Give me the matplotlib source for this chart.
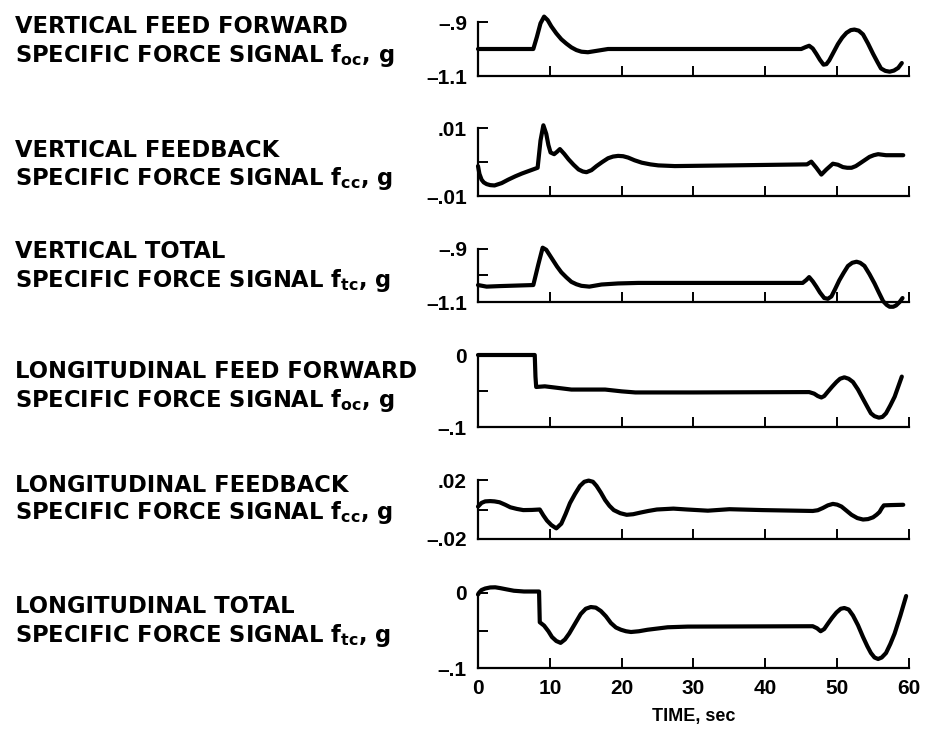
import matplotlib
matplotlib.use("Agg")
import matplotlib.pyplot as plt

plt.rcParams.update({
    "font.family": ["Liberation Sans", "DejaVu Sans"],
    "font.weight": "bold",
    "mathtext.fontset": "custom",
    "mathtext.rm": "DejaVu Sans:bold",
    "mathtext.bf": "DejaVu Sans:bold",
    "mathtext.it": "DejaVu Sans:bold",
    "mathtext.sf": "DejaVu Sans:bold",
})

# ---- time histories (time in sec, specific force in g) ----
t_vff = [0, 7.7, 8.2, 8.7, 9.2, 9.7, 10.2, 10.9, 11.6, 12.3, 13.0, 13.7, 14.4, 15.3,
         16.0, 16.7, 18.1, 30, 45.0, 45.6, 46.1, 46.6, 47.1, 47.6, 48.1, 48.5, 48.9,
         49.5, 50.1, 50.7, 51.3, 51.9, 52.4, 53.0, 53.6, 54.3, 55.0, 55.6, 56.1, 56.7,
         57.3, 57.9, 58.5, 59.0]
f_vff = [-1.0, -1.0, -0.955, -0.905, -0.88, -0.893, -0.916, -0.942, -0.964, -0.98,
         -0.994, -1.004, -1.01, -1.012, -1.009, -1.006, -1.0, -1.0, -1.0, -0.993,
         -0.988, -0.998, -1.018, -1.04, -1.058, -1.056, -1.042, -1.012, -0.982, -0.958,
         -0.94, -0.93, -0.928, -0.932, -0.946, -0.98, -1.018, -1.048, -1.072, -1.081,
         -1.084, -1.08, -1.07, -1.052]

t_vfb = [0, 0.2, 0.5, 0.8, 1.2, 1.7, 2.3, 3.3, 4.2, 5.2, 6.1, 7.0, 8.3, 8.7, 9.1, 9.5,
         9.8, 10.1, 10.6, 11.0, 11.4, 12.0, 12.6, 13.3, 14.0, 14.6, 15.1, 15.8, 16.5,
         17.3, 18.1, 18.8, 19.5, 20.2, 20.9, 21.8, 22.8, 24.0, 25.1, 27.4, 35, 45.8,
         46.4, 47.1, 47.8, 48.5, 49.4, 50.1, 50.8, 51.4, 52.0, 52.6, 53.1, 53.8, 54.5,
         55.1, 55.7, 56.8, 59.2]
f_vfb = [-0.0012, -0.0035, -0.0052, -0.006, -0.0065, -0.0068, -0.0069, -0.0062,
         -0.0052, -0.0042, -0.0034, -0.0027, -0.0017, 0.0063, 0.0108, 0.0083, 0.005,
         0.0028, 0.0023, 0.003, 0.0038, 0.0024, 0.0008, -0.0008, -0.0022, -0.0028,
         -0.003, -0.0024, -0.0012, 0.0, 0.0011, 0.0016, 0.0018, 0.0017, 0.0013,
         0.0005, -0.0002, -0.0007, -0.001, -0.0012, -0.001, -0.0007, 0.0001, -0.0017,
         -0.0037, -0.0022, -0.0005, -0.0008, -0.0015, -0.0017, -0.0017, -0.0012,
         -0.0005, 0.0005, 0.0015, 0.002, 0.0023, 0.002, 0.002]

t_vt = [0, 1.2, 3.0, 7.7, 8.4, 9.0, 9.5, 10.0, 10.5, 11.0, 11.6, 12.3, 13.0, 13.7,
        14.4, 15.5, 17.2, 19.5, 22.3, 30, 45.2, 45.7, 46.1, 46.6, 47.1, 47.6, 48.2,
        48.7, 49.2, 49.7, 50.3, 50.9, 51.5, 52.1, 52.7, 53.2, 53.8, 54.5, 55.2, 55.8,
        56.4, 56.9, 57.3, 57.8, 58.2, 58.7, 59.1]
f_vt = [-1.036, -1.042, -1.04, -1.036, -0.958, -0.895, -0.903, -0.924, -0.945, -0.966,
        -0.988, -1.007, -1.024, -1.033, -1.039, -1.042, -1.034, -1.03, -1.028, -1.028,
        -1.028, -1.017, -1.006, -1.022, -1.042, -1.064, -1.085, -1.088, -1.079, -1.052,
        -1.018, -0.99, -0.964, -0.952, -0.948, -0.952, -0.964, -0.995, -1.03, -1.064,
        -1.097, -1.111, -1.118, -1.118, -1.113, -1.1, -1.085]

t_lff = [0, 7.9, 8.0, 8.1, 9.3, 11.2, 13.0, 17.7, 20.0, 21.9, 30, 46.1, 46.8, 47.3,
         47.8, 48.2, 48.7, 49.3, 49.9, 50.4, 51.0, 51.6, 52.2, 52.9, 53.6, 54.2, 54.7,
         55.2, 55.8, 56.3, 56.8, 57.4, 58.0, 58.5, 59.0]
f_lff = [0, 0, -0.03, -0.0444, -0.0435, -0.0458, -0.048, -0.048, -0.0505, -0.052,
         -0.052, -0.0515, -0.0537, -0.057, -0.059, -0.057, -0.051, -0.044, -0.0375,
         -0.033, -0.031, -0.033, -0.0375, -0.048, -0.061, -0.072, -0.081, -0.085,
         -0.087, -0.086, -0.081, -0.07, -0.058, -0.044, -0.03]

t_lfb = [0, 0.5, 1.0, 1.7, 2.3, 3.0, 3.8, 4.5, 5.4, 6.3, 7.5, 8.6, 9.1, 9.6, 10.2,
         10.9, 11.6, 12.2, 12.8, 13.5, 14.2, 14.8, 15.4, 16.0, 16.5, 17.1, 17.7, 18.3,
         18.9, 19.8, 20.7, 21.6, 22.6, 23.7, 24.9, 27.2, 29.1, 32, 35, 39.6, 46.6, 47.3,
         48.0, 48.7, 49.4, 50.0, 50.6, 51.3, 52.0, 52.8, 53.6, 54.3, 55.0, 55.5, 55.9,
         56.2, 56.5, 57.5, 59.2]
f_lfb = [0.002, 0.0045, 0.0055, 0.0057, 0.0055, 0.0049, 0.0032, 0.0015, 0.0004, -0.0004,
         -0.0003, 0.0, -0.004, -0.0075, -0.0105, -0.0128, -0.0096, -0.003, 0.0043,
         0.0105, 0.016, 0.0188, 0.0196, 0.0188, 0.016, 0.0115, 0.0064, 0.0025, -0.0004,
         -0.0025, -0.0036, -0.0032, -0.0021, -0.001, 0.0, 0.0006, 0.0, -0.0008, 0.0002,
         -0.0004, -0.001, -0.0005, 0.001, 0.0028, 0.0038, 0.0033, 0.002, -0.0008,
         -0.0036, -0.0058, -0.0068, -0.0065, -0.0053, -0.0035, -0.0017, 0.0008, 0.0028,
         0.003, 0.0032]

t_lt = [0, 0.2, 0.5, 1.0, 1.7, 2.4, 3.1, 4.0, 5.0, 6.4, 8.5, 8.6, 9.2, 9.8, 10.3, 10.9,
        11.5, 12.1, 12.7, 13.5, 14.3, 15.0, 15.7, 16.4, 17.1, 17.8, 18.5, 19.2, 19.9,
        20.6, 21.3, 22.4, 23.6, 26.4, 29.2, 40, 46.6, 47.2, 47.7, 48.2, 48.7, 49.3,
        49.9, 50.5, 51.0, 51.6, 52.2, 52.9, 53.6, 54.2, 54.7, 55.2, 55.7, 56.2, 56.8,
        57.4, 58.0, 58.8, 59.6]
f_lt = [-0.002, 0.001, 0.004, 0.006, 0.0074, 0.0076, 0.0065, 0.0048, 0.003, 0.002,
        0.002, -0.039, -0.0435, -0.051, -0.0587, -0.064, -0.0665, -0.062, -0.054,
        -0.041, -0.028, -0.021, -0.0187, -0.0195, -0.024, -0.031, -0.04, -0.046, -0.049,
        -0.051, -0.052, -0.051, -0.049, -0.0457, -0.0448, -0.0445, -0.0443, -0.047,
        -0.051, -0.048, -0.041, -0.033, -0.026, -0.021, -0.02, -0.022, -0.03, -0.043,
        -0.0587, -0.071, -0.08, -0.086, -0.088, -0.086, -0.08, -0.068, -0.054, -0.03,
        -0.004]

time_ticks = [0, 10, 20, 30, 40, 50, 60]

titles = [
    ("VERTICAL FEED FORWARD", r"SPECIFIC FORCE SIGNAL $\mathbf{f_{oc}}$, g"),
    ("VERTICAL FEEDBACK", r"SPECIFIC FORCE SIGNAL $\mathbf{f_{cc}}$, g"),
    ("VERTICAL TOTAL", r"SPECIFIC FORCE SIGNAL $\mathbf{f_{tc}}$, g"),
    ("LONGITUDINAL FEED FORWARD", r"SPECIFIC FORCE SIGNAL $\mathbf{f_{oc}}$, g"),
    ("LONGITUDINAL FEEDBACK", r"SPECIFIC FORCE SIGNAL $\mathbf{f_{cc}}$, g"),
    ("LONGITUDINAL TOTAL", r"SPECIFIC FORCE SIGNAL $\mathbf{f_{tc}}$, g"),
]
y_ranges = [(-1.1, -0.9), (-0.01, 0.01), (-1.1, -0.9), (-0.1, 0.0), (-0.02, 0.02), (-0.1, 0.0)]
y_labels = [("\u20131.1", "\u2013.9"), ("\u2013.01", ".01"), ("\u20131.1", "\u2013.9"),
            ("\u2013.1", "0"), ("\u2013.02", ".02"), ("\u2013.1", "0")]
series = [(t_vff, f_vff), (t_vfb, f_vfb), (t_vt, f_vt),
          (t_lff, f_lff), (t_lfb, f_lfb), (t_lt, f_lt)]

# ---- layout in pixels ----
W, H = 944, 735
fig = plt.figure(figsize=(W / 100, H / 100), dpi=100)
ax_left, ax_right = 478, 909
ax_boxes = [(22, 76), (128, 196), (249, 302), (355, 427), (480, 539), (593, 668)]
title_baselines = [(33, 62), (157, 185), (258, 287), (378, 407), (492, 519), (613, 642)]

for i in range(6):
    top, bot = ax_boxes[i]
    ax = fig.add_axes([ax_left / W, 1 - bot / H, (ax_right - ax_left) / W, (bot - top) / H])
    t, f = series[i]
    ax.plot(t, f, color="black", lw=3.0, clip_on=False,
            solid_joinstyle="round", solid_capstyle="round")
    lo, hi = y_ranges[i]
    ax.set_xlim(0, 60)
    ax.set_ylim(lo, hi)
    for s in ("top", "right"):
        ax.spines[s].set_visible(False)
    for s in ("left", "bottom"):
        ax.spines[s].set_linewidth(1.6)
    ax.set_xticks(time_ticks)
    ax.set_yticks([lo, (lo + hi) / 2, hi])
    ax.set_yticklabels([y_labels[i][0], "", y_labels[i][1]])
    ax.tick_params(axis="both", direction="in", length=7, width=1.4, colors="black")
    ax.tick_params(axis="y", labelsize=15, pad=8)
    ax.tick_params(axis="x", labelsize=15, pad=8)
    if i < 5:
        ax.set_xticklabels([])
    else:
        ax.set_xlabel("TIME, sec", fontsize=13, fontweight="bold", labelpad=7)

    l1, l2 = titles[i]
    b1, b2 = title_baselines[i]
    for txt, b in ((l1, b1), (l2, b2)):
        fig.text(15 / W, 1 - b / H, txt, ha="left", va="baseline",
                 fontsize=16.3, fontweight="bold", family="DejaVu Sans")

fig.savefig("out.png", dpi=100)
